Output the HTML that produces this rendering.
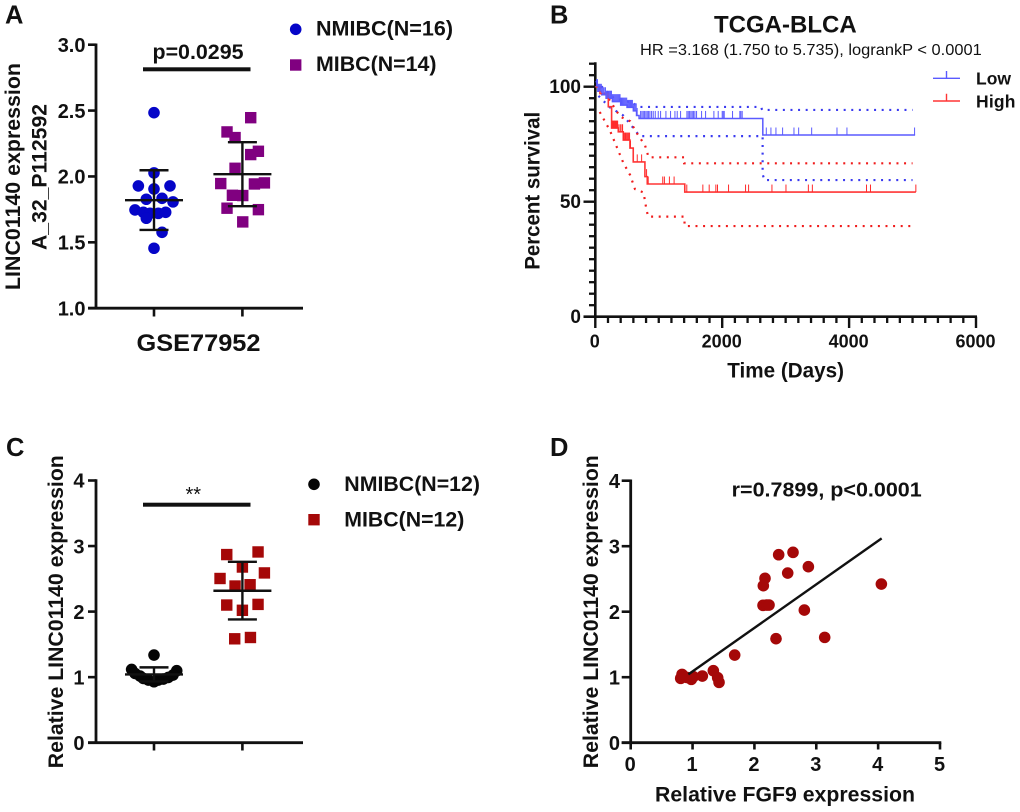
<!DOCTYPE html>
<html>
<head>
<meta charset="utf-8">
<title>LINC01140 expression figure</title>
<style>
html,body{margin:0;padding:0;background:#fff;}
svg{display:block;}
text{font-family:"Liberation Sans",Arial,sans-serif;font-weight:bold;fill:#111;}
</style>
</head>
<body>
<svg id="fig" xmlns="http://www.w3.org/2000/svg" width="1020" height="812" viewBox="0 0 1020 812">
  <rect x="0" y="0" width="1020" height="812" fill="#fff"/>

  <g id="panelA">
    <text x="5" y="23.5" font-size="25.5">A</text>
    <text transform="translate(20,176.5) rotate(-90)" text-anchor="middle" font-size="21.5" textLength="227" lengthAdjust="spacingAndGlyphs">LINC01140 expression</text>
    <text transform="translate(46.5,177) rotate(-90)" text-anchor="middle" font-size="21.5" textLength="146" lengthAdjust="spacingAndGlyphs">A_32_P112592</text>
    <text x="152.5" y="59" font-size="21.5" textLength="91" lengthAdjust="spacingAndGlyphs">p=0.0295</text>
    <rect x="143" y="67.3" width="107.5" height="4" fill="#111"/>
    <text x="136.5" y="351" font-size="24" textLength="124" lengthAdjust="spacingAndGlyphs">GSE77952</text>
    <circle cx="295.7" cy="29.3" r="5.8" fill="#0505c8"/>
    <text x="316" y="35.7" font-size="21.5" textLength="137" lengthAdjust="spacingAndGlyphs">NMIBC(N=16)</text>
    <rect x="290" y="59.3" width="11.4" height="11.4" fill="#800080"/>
    <text x="316" y="71" font-size="21.5" textLength="120.5" lengthAdjust="spacingAndGlyphs">MIBC(N=14)</text>
  </g>

  <g id="panelB">
    <text x="550" y="23.5" font-size="25.5">B</text>
    <text x="714" y="32.3" font-size="24" textLength="142.7" lengthAdjust="spacingAndGlyphs">TCGA-BLCA</text>
    <text x="640" y="55" font-size="15.5" textLength="341.7" lengthAdjust="spacingAndGlyphs" style="font-weight:normal">HR =3.168 (1.750 to 5.735), logrankP &lt; 0.0001</text>
    <text transform="translate(539.3,190.8) rotate(-90)" text-anchor="middle" font-size="21.5" textLength="158" lengthAdjust="spacingAndGlyphs">Percent survival</text>
    <text x="727.3" y="377.7" font-size="21.5" textLength="116.7" lengthAdjust="spacingAndGlyphs">Time (Days)</text>
    <path d="M933 78.3H960M946.5 78.3V71" fill="none" stroke="#5a5aff" stroke-width="1.4"/>
    <text x="976" y="84.3" font-size="17.5" textLength="35" lengthAdjust="spacing">Low</text>
    <path d="M933 101H960M946.5 101V93.7" fill="none" stroke="#ff3535" stroke-width="1.4"/>
    <text x="976" y="107.7" font-size="17.5" textLength="39.5" lengthAdjust="spacing">High</text>
  </g>

  <g id="panelC">
    <text x="6" y="456" font-size="25.5">C</text>
    <text transform="translate(63,611.7) rotate(-90)" text-anchor="middle" font-size="21.5" textLength="313" lengthAdjust="spacingAndGlyphs">Relative LINC01140 expression</text>
    <text x="193.3" y="501" text-anchor="middle" font-size="20" style="font-weight:normal">**</text>
    <rect x="143" y="502.7" width="107.5" height="4" fill="#111"/>
    <circle cx="314" cy="484.3" r="5.8" fill="#050505"/>
    <text x="344.3" y="491" font-size="21.5" textLength="135.7" lengthAdjust="spacingAndGlyphs">NMIBC(N=12)</text>
    <rect x="308.3" y="514" width="11.4" height="11.4" fill="#a50808"/>
    <text x="344.3" y="526.7" font-size="21.5" textLength="120" lengthAdjust="spacingAndGlyphs">MIBC(N=12)</text>
  </g>

  <g id="panelD">
    <text x="550" y="456" font-size="25.5">D</text>
    <text transform="translate(598,611.7) rotate(-90)" text-anchor="middle" font-size="21.5" textLength="313" lengthAdjust="spacingAndGlyphs">Relative LINC01140 expression</text>
    <text x="655" y="801.7" font-size="21.5" textLength="260" lengthAdjust="spacingAndGlyphs">Relative FGF9 expression</text>
    <text x="731.7" y="496.7" font-size="20.5" textLength="190" lengthAdjust="spacingAndGlyphs">r=0.7899, p&lt;0.0001</text>
  </g>
</svg>

<script>
// ---------- Panel A data ----------
const aTicks = [1.0, 1.5, 2.0, 2.5, 3.0];
const aTickLabels = ['1.0', '1.5', '2.0', '2.5', '3.0'];
const aNmibcValues = [2.484, 2.027, 1.928, 1.928, 1.905, 1.827, 1.834, 1.807, 1.746, 1.728, 1.72, 1.72, 1.728, 1.683, 1.576, 1.455];
const aNmibcJitter = [0, 0, -0.177, 0.181, 0, -0.087, 0.091, 0.215, -0.215, -0.121, -0.045, 0.049, 0.132, -0.087, 0.091, 0];
const aMibcValues = [2.446, 2.338, 2.295, 2.191, 2.166, 2.062, 1.946, 1.943, 1.951, 1.857, 1.855, 1.759, 1.748, 1.655];
const aMibcJitter = [0.094, -0.174, -0.083, 0.181, 0.094, -0.083, -0.245, 0.136, 0.249, -0.113, 0.004, -0.174, 0.181, 0.004];
const aNmibcStats = [1.82, 1.594, 2.047];
const aMibcStats = [2.017, 1.774, 2.26];

// ---------- Panel B data ----------
const bYMajor = [0, 50, 100];
const bYLabels = ['0', '50', '100'];
const bYMinor = [5, 10, 15, 20, 25, 30, 35, 40, 45, 55, 60, 65, 70, 75, 80, 85, 90, 95, 105, 110];
const bXMajor = [0, 2000, 4000, 6000];
const bXLabels = ['0', '2000', '4000', '6000'];
const bXMinor = [200, 400, 600, 800, 1000, 1200, 1400, 1600, 1800, 2200, 2400, 2600, 2800, 3000, 3200, 3400, 3600, 3800, 4200, 4400, 4600, 4800, 5000, 5200, 5400, 5600, 5800];

const lowDays = [0, 40, 100, 170, 270, 400, 500, 600, 650, 690, 2640, 5040];
const lowSurv = [100, 98, 96.5, 95, 93.5, 92, 91, 89.5, 87.5, 86.2, 79, 79];
const highDays = [0, 73, 205, 257, 362, 441, 546, 598, 730, 782, 819, 1410, 5052];
const highSurv = [100, 97, 91.3, 82, 80.4, 76.8, 73.3, 67.3, 67.3, 60.9, 57.7, 54.2, 54.2];

const lowCensor = [20, 35, 50, 65, 80, 95, 110, 125, 140, 160, 175, 190, 210, 225, 240, 255, 270, 285, 300, 315, 330, 345, 360, 375, 390, 405, 420, 435, 450, 465, 480, 495, 510, 525, 540, 555, 570, 585, 600, 615, 630, 645, 660, 714, 735, 756, 777, 798, 819, 840, 861, 887, 913, 945, 992, 1029, 1113, 1186, 1255, 1291, 1344, 1444, 1465, 1486, 1507, 1528, 1549, 1570, 1596, 1675, 1738, 1869, 1937, 2000, 2016, 2032, 2163, 2278, 2294, 2315, 2642, 2695, 2768, 2847, 2952, 3131, 3205, 3410, 3809, 3966, 5032];
const highCensor = [262, 272, 282, 292, 302, 312, 322, 332, 342, 352, 372, 395, 420, 430, 445, 455, 470, 480, 495, 510, 525, 540, 555, 661, 730, 808, 834, 1063, 1089, 1168, 1242, 1442, 1695, 1795, 1900, 1926, 2100, 2368, 2416, 2784, 3005, 3358, 3421, 4274, 4337, 5052];

const lowUpperDays = [10, 60, 180, 300, 600, 680, 2610, 2630, 5000];
const lowUpperSurv = [102.5, 101, 98, 95, 92.8, 91.2, 91.2, 89.9, 89.9];
const lowLowerDays = [50, 230, 440, 600, 700, 2637, 2637, 2665, 5000];
const lowLowerSurv = [96, 91, 87.5, 82, 78.5, 78.5, 62, 59.4, 59.4];
const highUpperDays = [70, 230, 390, 550, 650, 784, 840, 1400, 1400, 5000];
const highUpperSurv = [100, 94, 87, 85, 80, 74.5, 69.3, 69.3, 66.7, 66.7];
const highLowerDays = [70, 230, 440, 550, 625, 760, 810, 835, 1400, 1410, 5000];
const highLowerSurv = [89, 81, 67, 61.5, 55.5, 54, 46, 43.5, 43.5, 39.4, 39.4];

// ---------- Panel C data ----------
const cTicks = [0, 1, 2, 3, 4];
const cTickLabels = ['0', '1', '2', '3', '4'];
const cNmibcValues = [1.337, 1.118, 1.098, 1.057, 1.032, 1.017, 0.996, 0.981, 0.971, 0.956, 0.956, 0.93];
const cNmibcJitter = [0, -0.253, 0.257, -0.215, 0.215, -0.158, 0.162, -0.121, 0.106, -0.064, 0.049, 0];
const cMibcValues = [2.87, 2.91, 2.68, 2.59, 2.505, 2.39, 2.41, 2.1, 2.11, 2.02, 1.585, 1.605];
const cMibcJitter = [-0.177, 0.177, 0, 0.249, -0.253, -0.083, 0.087, -0.177, 0.177, 0, -0.087, 0.091];
const cNmibcStats = [1.042, 0.935, 1.149];
const cMibcStats = [2.318, 1.88, 2.76];

// ---------- Panel D data ----------
const dXTicks = [0, 1, 2, 3, 4, 5];
const dXLabels = ['0', '1', '2', '3', '4', '5'];
const dYTicks = [0, 1, 2, 3, 4];
const dYLabels = ['0', '1', '2', '3', '4'];
const dFgf9 = [0.808, 0.83, 0.862, 0.905, 0.98, 1.013, 1.158, 1.336, 1.406, 1.428, 1.681, 2.139, 2.198, 2.236, 2.144, 2.171, 2.392, 2.624, 2.538, 2.872, 2.807, 2.349, 3.136, 4.052];
const dLinc = [0.982, 1.043, 1.008, 0.997, 0.967, 1.008, 1.018, 1.099, 0.992, 0.921, 1.338, 2.097, 2.102, 2.102, 2.397, 2.509, 2.87, 2.906, 2.59, 2.687, 2.025, 1.588, 1.608, 2.422];
const dFitX = [0.932, 4.057];
const dFitY = [1.043, 3.12];

// ---------- Helpers ----------
const NS = 'http://www.w3.org/2000/svg';
function linear(d0, d1, r0, r1) {
  return function (v) { return r0 + (v - d0) * (r1 - r0) / (d1 - d0); };
}
function make(parent, tag, props) {
  const el = document.createElementNS(NS, tag);
  for (const k in props) { el.setAttribute(k, props[k]); }
  parent.appendChild(el);
  return el;
}
function seg(parent, x1, y1, x2, y2, w, color, name) {
  const el = make(parent, 'line', { x1: x1, y1: y1, x2: x2, y2: y2, stroke: color, 'stroke-width': w });
  
  
  return el;
}
function label(parent, x, y, str, size, anchor, name) {
  const el = make(parent, 'text', { x: x, y: y, 'font-size': size, 'text-anchor': anchor });
  el.textContent = str;
  
  
  return el;
}
function circleMark(parent, cx, cy, r, color, name) {
  const el = make(parent, 'circle', { cx: cx, cy: cy, r: r, fill: color });
  
  
  return el;
}
function squareMark(parent, cx, cy, s, color, name) {
  const el = make(parent, 'rect', { x: cx - s / 2, y: cy - s / 2, width: s, height: s, fill: color });
  
  
  return el;
}
function errorBars(parent, cx, stats, yScale, name) {
  seg(parent, cx - 29, yScale(stats[0]), cx + 29, yScale(stats[0]), 2.4, '#111', name + '-mean');
  seg(parent, cx, yScale(stats[1]), cx, yScale(stats[2]), 2.4, '#111', name + '-sd-stem');
  seg(parent, cx - 14.5, yScale(stats[1]), cx + 14.5, yScale(stats[1]), 2.4, '#111', name + '-sd-lower');
  seg(parent, cx - 14.5, yScale(stats[2]), cx + 14.5, yScale(stats[2]), 2.4, '#111', name + '-sd-upper');
}
function stepPath(xs, ys, xScale, yScale) {
  let d = 'M' + xScale(xs[0]) + ' ' + yScale(ys[0]);
  for (let i = 1; i < xs.length; i++) {
    d += 'H' + xScale(xs[i]) + 'V' + yScale(ys[i]);
  }
  return d;
}
function linePath(xs, ys, xScale, yScale) {
  let d = '';
  for (let i = 0; i < xs.length; i++) {
    d += (i ? 'L' : 'M') + xScale(xs[i]) + ' ' + yScale(ys[i]);
  }
  return d;
}
function survivalAt(xs, ys, day) {
  let s = ys[0];
  for (let i = 0; i < xs.length; i++) {
    if (xs[i] <= day) { s = ys[i]; }
  }
  return s;
}

// ---------- Panel A ----------
const gA = document.getElementById('panelA');
const yA = linear(1, 3, 308.2, 44.7);
const catX = linear(0, 1, 154, 242.4);
seg(gA, 96, 43.5, 96, 309.5, 2.8, '#111', 'panel-a-y-axis');
seg(gA, 88, 308.2, 303, 308.2, 2.8, '#111', 'panel-a-x-axis');
aTicks.forEach(function (t, i) {
  seg(gA, 88, yA(t), 96, yA(t), 2.6, '#111', 'panel-a-y-tick');
  label(gA, 85.5, yA(t) + 7.2, aTickLabels[i], 20, 'end', 'panel-a-y-tick-label');
});
[0, 1].forEach(function (c) {
  seg(gA, catX(c), 308.2, catX(c), 316.5, 2.6, '#111', 'panel-a-x-tick');
});
aNmibcValues.forEach(function (v, i) {
  circleMark(gA, catX(aNmibcJitter[i]), yA(v), 5.8, '#0505c8', 'nmibc-point');
});
aMibcValues.forEach(function (v, i) {
  squareMark(gA, catX(1 + aMibcJitter[i]), yA(v), 11.4, '#800080', 'mibc-point');
});
errorBars(gA, catX(0), aNmibcStats, yA, 'nmibc-error');
errorBars(gA, catX(1), aMibcStats, yA, 'mibc-error');

// ---------- Panel B ----------
const gB = document.getElementById('panelB');
const xB = linear(0, 6000, 595.3, 976);
const yB = linear(0, 100, 316.7, 86.7);
seg(gB, 595.3, 62.3, 595.3, 318, 2.6, '#111', 'panel-b-y-axis');
seg(gB, 583.5, 316.7, 977, 316.7, 2.6, '#111', 'panel-b-x-axis');
bYMinor.forEach(function (t) {
  seg(gB, 589, yB(t), 595.3, yB(t), 2.3, '#111', 'panel-b-y-minor-tick');
});
bYMajor.forEach(function (t, i) {
  seg(gB, 583.5, yB(t), 595.3, yB(t), 2.4, '#111', 'panel-b-y-major-tick');
  label(gB, 581, yB(t) + 6.4, bYLabels[i], 19, 'end', 'panel-b-y-tick-label');
});
bXMinor.forEach(function (t) {
  seg(gB, xB(t), 316.7, xB(t), 323, 2.3, '#111', 'panel-b-x-minor-tick');
});
bXMajor.forEach(function (t, i) {
  seg(gB, xB(t), 316.7, xB(t), 328, 2.4, '#111', 'panel-b-x-major-tick');
  label(gB, xB(t) - 0.5, 347.3, bXLabels[i], 18, 'middle', 'panel-b-x-tick-label');
});
function ciLine(xs, ys, color, name) {
  const el = make(gB, 'path', { d: linePath(xs, ys, xB, yB), fill: 'none', stroke: color, 'stroke-width': 2.2, 'stroke-dasharray': '2 5.6' });
  
  
}
ciLine(lowUpperDays, lowUpperSurv, '#3a3af0', 'low-upper-ci');
ciLine(lowLowerDays, lowLowerSurv, '#3a3af0', 'low-lower-ci');
ciLine(highUpperDays, highUpperSurv, '#f01c1c', 'high-upper-ci');
ciLine(highLowerDays, highLowerSurv, '#f01c1c', 'high-lower-ci');
const lowCurve = make(gB, 'path', { d: stepPath(lowDays, lowSurv, xB, yB), fill: 'none', stroke: '#5a5aff', 'stroke-width': 1.5 });


const highCurve = make(gB, 'path', { d: stepPath(highDays, highSurv, xB, yB), fill: 'none', stroke: '#ff3535', 'stroke-width': 1.6 });


lowCensor.forEach(function (d) {
  const y = yB(survivalAt(lowDays, lowSurv, d));
  seg(gB, xB(d), y, xB(d), y - 7.5, 1, '#5a5aff', 'low-censor-mark');
});
highCensor.forEach(function (d) {
  const y = yB(survivalAt(highDays, highSurv, d));
  seg(gB, xB(d), y, xB(d), y - 7.5, 1, '#ff2a2a', 'high-censor-mark');
});

// ---------- Panel C ----------
const gC = document.getElementById('panelC');
const yC = linear(0, 4, 742.7, 480.5);
seg(gC, 96, 479.3, 96, 744, 2.8, '#111', 'panel-c-y-axis');
seg(gC, 88, 742.7, 303, 742.7, 2.8, '#111', 'panel-c-x-axis');
cTicks.forEach(function (t, i) {
  seg(gC, 88, yC(t), 96, yC(t), 2.6, '#111', 'panel-c-y-tick');
  label(gC, 84.5, yC(t) + 7.2, cTickLabels[i], 20, 'end', 'panel-c-y-tick-label');
});
[0, 1].forEach(function (c) {
  seg(gC, catX(c), 742.7, catX(c), 750.5, 2.6, '#111', 'panel-c-x-tick');
});
cNmibcValues.forEach(function (v, i) {
  circleMark(gC, catX(cNmibcJitter[i]), yC(v), 5.8, '#050505', 'nmibc-c-point');
});
cMibcValues.forEach(function (v, i) {
  squareMark(gC, catX(1 + cMibcJitter[i]), yC(v), 11.4, '#a50808', 'mibc-c-point');
});
errorBars(gC, catX(0), cNmibcStats, yC, 'nmibc-c-error');
errorBars(gC, catX(1), cMibcStats, yC, 'mibc-c-error');

// ---------- Panel D ----------
const gD = document.getElementById('panelD');
const xD = linear(0, 5, 630.7, 940);
const yD = linear(0, 4, 742.7, 480.7);
seg(gD, 630.7, 479.5, 630.7, 744, 2.8, '#111', 'panel-d-y-axis');
seg(gD, 621.7, 742.7, 941.3, 742.7, 2.8, '#111', 'panel-d-x-axis');
dYTicks.forEach(function (t, i) {
  seg(gD, 621.7, yD(t), 630.7, yD(t), 2.6, '#111', 'panel-d-y-tick');
  label(gD, 620, yD(t) + 7.2, dYLabels[i], 20, 'end', 'panel-d-y-tick-label');
});
dXTicks.forEach(function (t, i) {
  seg(gD, xD(t), 742.7, xD(t), 749.5, 2.6, '#111', 'panel-d-x-tick');
  label(gD, xD(t) - 0.5, 771, dXLabels[i], 20, 'middle', 'panel-d-x-tick-label');
});
dFgf9.forEach(function (v, i) {
  circleMark(gD, xD(v), yD(dLinc[i]), 5.8, '#a50808', 'correlation-point');
});
seg(gD, xD(dFitX[0]), yD(dFitY[0]), xD(dFitX[1]), yD(dFitY[1]), 2.4, '#111', 'regression-line');
</script>
</body>
</html>
